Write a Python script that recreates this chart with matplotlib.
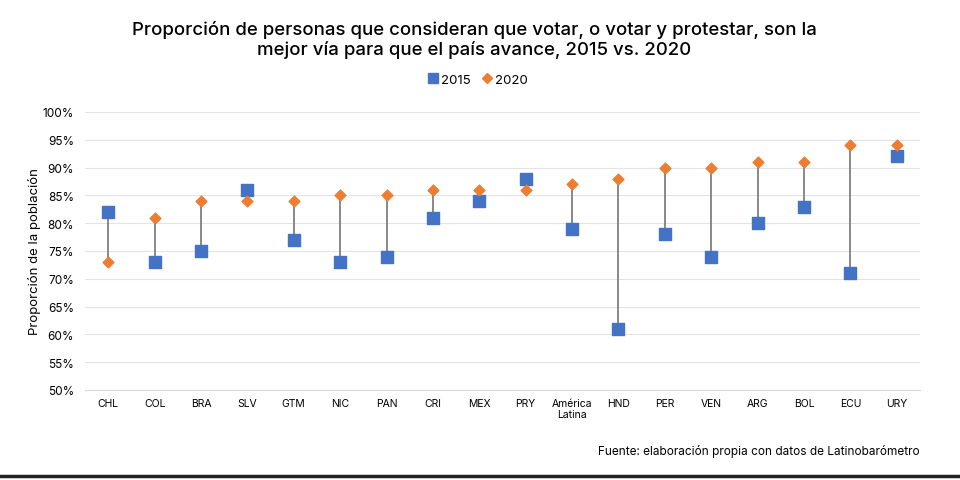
import numpy as np
import matplotlib.pyplot as plt
from matplotlib.lines import Line2D

# data
paises = ["CHL", "COL", "BRA", "SLV", "GTM", "NIC", "PAN", "CRI", "MEX", "PRY",
          "América\nLatina", "HND", "PER", "VEN", "ARG", "BOL", "ECU", "URY"]
v2015 = [82, 73, 75, 86, 77, 73, 74, 81, 84, 88, 79, 61, 78, 74, 80, 83, 71, 92]
v2020 = [73, 81, 84, 84, 84, 85, 85, 86, 86, 86, 87, 88, 90, 90, 91, 91, 94, 94]
yticks = list(range(50, 101, 5))

azul = "#4472C4"
naranja = "#ED7D31"

plt.rcParams['font.family'] = ['Inter', 'DejaVu Sans']

fig = plt.figure(figsize=(9.6, 4.81), dpi=100)
ax = fig.add_axes([85/960, 1-391/481, (920-85)/960, (391-113)/481])

x = np.arange(len(paises))
ax.vlines(x, np.minimum(v2015, v2020), np.maximum(v2015, v2020), color="#7f7f7f", lw=1.3, zorder=2)
ax.scatter(x, v2015, marker="s", s=70, color=azul, zorder=3)
ax.scatter(x, v2020, marker="D", s=30, color=naranja, zorder=4)

ax.set_xlim(-0.5, len(paises) - 0.5)
ax.set_ylim(50, 100)
ax.set_yticks(yticks)
ax.set_yticklabels([f"{t}%" for t in yticks], fontsize=8.5)
ax.set_xticks(x)
ax.set_xticklabels(paises, fontsize=7.5, linespacing=1.1)
ax.tick_params(length=0, pad=6)
ax.tick_params(axis="y", pad=8)
ax.grid(axis="y", color="#e3e3e3", lw=0.8, zorder=0)
for s in ["top", "right", "left"]:
    ax.spines[s].set_visible(False)
ax.spines["bottom"].set_color("#d9d9d9")
ax.set_ylabel("Proporción de la población", fontsize=9.5, labelpad=1)

fig.text(0.494, 1-40/481, "Proporción de personas que consideran que votar, o votar y protestar, son la\n"
         "mejor vía para que el país avance, 2015 vs. 2020",
         ha="center", va="center", fontsize=13.4, fontweight="medium", linespacing=1.1)

handles = [Line2D([], [], marker="s", ls="", color=azul, markersize=7),
           Line2D([], [], marker="D", ls="", color=naranja, markersize=5)]
fig.legend(handles, ["2015", "2020"], loc="center", bbox_to_anchor=(0.497, 1-81/481),
           ncol=2, frameon=False, fontsize=9.5, handletextpad=0.05, columnspacing=0.8,
           handlelength=1)

fig.text(920/960, 1-452/481, "Fuente: elaboración propia con datos de Latinobarómetro",
         ha="right", va="center", fontsize=8.5)

fig.add_artist(Line2D([0, 1], [1-477/481, 1-477/481], color="#222222", lw=2.5))

fig.savefig("out.png", dpi=100)
